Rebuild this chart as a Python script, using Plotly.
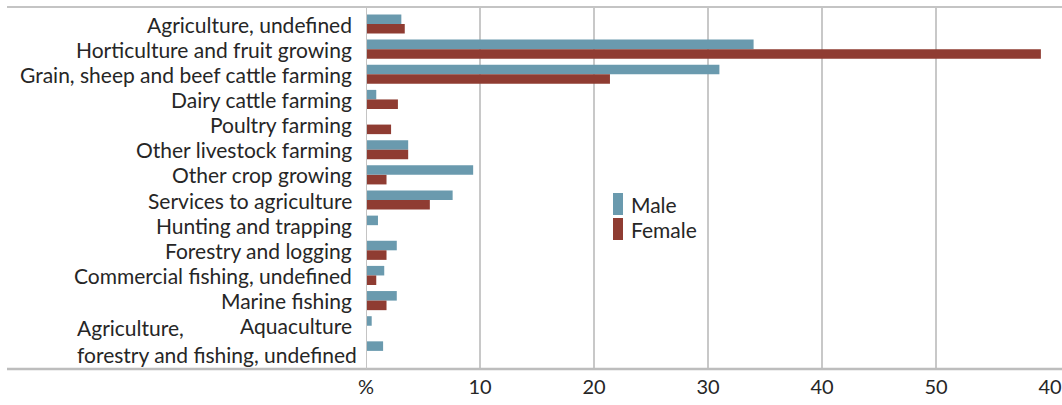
import plotly.graph_objects as go

categories = [
    "Agriculture, undefined",
    "Horticulture and fruit growing",
    "Grain, sheep and beef cattle farming",
    "Dairy cattle farming",
    "Poultry farming",
    "Other livestock farming",
    "Other crop growing",
    "Services to agriculture",
    "Hunting and trapping",
    "Forestry and logging",
    "Commercial fishing, undefined",
    "Marine fishing",
    "Aquaculture",
    "Agriculture,<br>forestry and fishing, undefined",
]
male = [3.1, 34.0, 31.0, 0.9, 0.05, 3.7, 9.4, 7.6, 1.05, 2.7, 1.6, 2.7, 0.5, 1.5]
female = [3.4, 59.2, 21.4, 2.8, 2.2, 3.7, 1.8, 5.6, 0.05, 1.8, 0.9, 1.8, 0.05, 0.05]
tick_vals = [0, 10, 20, 30, 40, 50, 60]
tick_text = ["%", "10", "20", "30", "40", "50", "40"]

MALE_C = "#6a9aae"
FEMALE_C = "#8f3c32"
FONT = "Lato"
LBL = 21
TXT = "#262626"

fig = go.Figure()
fig.add_trace(go.Bar(y=categories, x=male, orientation="h", name="Male",
                     marker=dict(color=MALE_C, line=dict(width=0))))
fig.add_trace(go.Bar(y=categories, x=female, orientation="h", name="Female",
                     marker=dict(color=FEMALE_C, line=dict(width=0))))

W, H = 1062, 405
ml, mr, mt, mb = 366, 12, 7, 36
pw = W - ml - mr
ph = H - mt - mb

fig.update_layout(
    width=W, height=H,
    margin=dict(l=ml, r=mr, t=mt, b=mb, autoexpand=False),
    paper_bgcolor="white", plot_bgcolor="white",
    barmode="group", bargap=0.24, bargroupgap=0,
    showlegend=False,
    font=dict(family=FONT, size=LBL, color=TXT),
)
fig.update_xaxes(range=[0, 60], tickvals=tick_vals, ticktext=tick_text,
                 showgrid=True, gridcolor="#c8c8c8", gridwidth=2,
                 zeroline=False, showline=False, ticks="", automargin=False,
                 ticklabelstandoff=4,
                 tickfont=dict(family=FONT, size=20, color=TXT))
fig.update_yaxes(type="category", categoryorder="array", categoryarray=categories,
                 range=[13.72, -0.676], showticklabels=False, showgrid=False,
                 zeroline=False, showline=False, ticks="", automargin=False)

# category labels (multi-line labels: lines left-aligned, block right-aligned)
for c in categories:
    multi = "<br>" in c
    fig.add_annotation(x=0, xref="paper", y=c, yref="y", text=c,
                       xanchor="right", align="left", showarrow=False,
                       xshift=-7 if multi else -12, yshift=10 if multi else 0,
                       font=dict(family=FONT, size=LBL, color=TXT))

# frame lines
x0p = (7 - ml) / pw
x1p = (W - ml) / pw
fig.add_shape(type="line", xref="paper", yref="paper", x0=x0p, x1=x1p, y0=1, y1=1,
              line=dict(color="#c4c4c4", width=2))
fig.add_shape(type="line", xref="paper", yref="paper", x0=x0p, x1=x1p, y0=0, y1=0,
              line=dict(color="#bdbdbd", width=2.5))
fig.add_shape(type="line", xref="x", yref="paper", x0=0, x1=0, y0=0, y1=1,
              line=dict(color="#c4c4c4", width=2))

# legend
def px(x):
    return (x - ml) / pw

def py(y):
    return 1 - (y - mt) / ph

for name, col, yc in [("Male", MALE_C, 204), ("Female", FEMALE_C, 229)]:
    fig.add_shape(type="rect", xref="paper", yref="paper",
                  x0=px(613), x1=px(623), y0=py(yc + 11), y1=py(yc - 11),
                  fillcolor=col, line=dict(width=0))
    fig.add_annotation(x=px(629), y=py(yc), xref="paper", yref="paper", text=name,
                       xanchor="left", yanchor="middle", showarrow=False,
                       font=dict(family=FONT, size=LBL, color=TXT))

fig.write_html("out.html", config={"displayModeBar": False},
               post_script="document.body.style.margin='0px';document.body.style.overflow='hidden';")
